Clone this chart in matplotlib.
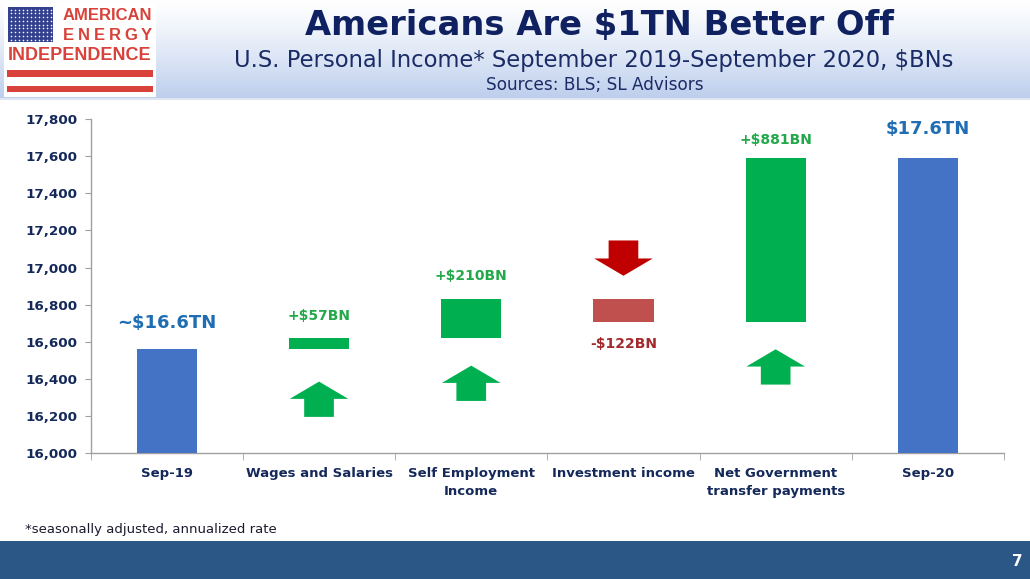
import numpy as np
import matplotlib
matplotlib.use("Agg")
import matplotlib.pyplot as plt
from matplotlib.patches import Rectangle, Polygon

# ---------------- data ----------------
categories = ["Sep-19", "Wages and Salaries", "Self Employment\nIncome",
              "Investment income", "Net Government\ntransfer payments", "Sep-20"]
start_value = 16562
changes = [57, 210, -122, 881]
value_labels = ["~$16.6TN", "+$57BN", "+$210BN", "-$122BN", "+$881BN", "$17.6TN"]
yticks = list(range(16000, 17801, 200))
# decorative arrow tips (data units) for the step categories
arrow_tips = [16386, 16472, 16956, 16560]

# ---------------- derived ----------------
end_value = start_value + sum(changes)
bottoms, heights = [0], [start_value]
running = start_value
for c in changes:
    if c >= 0:
        bottoms.append(running); heights.append(c)
    else:
        bottoms.append(running + c); heights.append(-c)
    running += c
bottoms.append(0); heights.append(end_value)

BLUE = "#4472C4"; GREEN = "#00B050"; RED_BAR = "#C0504D"; RED_ARROW = "#C00000"
NAVY = "#14285a"
colors = [BLUE] + [GREEN if c >= 0 else RED_BAR for c in changes] + [BLUE]
label_colors = ["#1f6db3"] + ["#23a84a" if c >= 0 else "#a3292b" for c in changes] + ["#1f6db3"]

W, H = 1030, 579
fig = plt.figure(figsize=(W / 100, H / 100), dpi=100)
fig.patch.set_facecolor("white")

# ---------------- decoration layer (pixel coords) ----------------
deco = fig.add_axes([0, 0, 1, 1], zorder=0)
deco.set_xlim(0, W); deco.set_ylim(H, 0); deco.axis("off")
# header gradient
grad = np.linspace(0, 1, 256)[:, None]
top_c = np.array([1.0, 1.0, 1.0]); bot_c = np.array([0.74, 0.81, 0.93])
img = top_c[None, None, :] * (1 - grad[:, :, None] ** 1.2) + bot_c[None, None, :] * grad[:, :, None] ** 1.2
deco.imshow(img, extent=[0, W, 98, 0], aspect="auto", zorder=0)
deco.plot([0, W], [98.5, 98.5], color="#dfe6f2", lw=1.5, zorder=1)
# logo
deco.add_patch(Rectangle((4, 3), 152, 94, facecolor="white", edgecolor="none", zorder=2))
deco.add_patch(Rectangle((8, 7), 45, 35, facecolor="#33418f", edgecolor="none", zorder=3))
sx, sy = np.meshgrid(np.linspace(10.5, 50.5, 11), np.linspace(9.5, 39.5, 9))
deco.scatter(sx.ravel(), sy.ravel(), s=1.3, color="white", zorder=4, linewidths=0)
LOGO_RED = "#d8423a"
deco.add_patch(Rectangle((7, 70), 146, 7, facecolor=LOGO_RED, edgecolor="none", zorder=3))
deco.add_patch(Rectangle((7, 86), 146, 6, facecolor=LOGO_RED, edgecolor="none", zorder=3))
deco.text(107, 15.5, "AMERICAN", color=LOGO_RED, fontsize=12, family="Liberation Sans",
          fontweight="bold", ha="center", va="center", zorder=4)
for i, ch in enumerate("ENERGY"):
    deco.text(68.5 + i * 15.6, 35.5, ch, color=LOGO_RED, fontsize=12, family="Liberation Sans",
              fontweight="bold", ha="center", va="center", zorder=4)
deco.text(79.5, 55.5, "INDEPENDENCE", color=LOGO_RED, fontsize=13, family="Liberation Sans",
          fontweight="bold", ha="center", va="center", zorder=4)
# titles
deco.text(599, 26, "Americans Are $1TN Better Off", color="#0f2160", fontsize=24.3,
          fontweight="bold", ha="center", va="center", zorder=4)
deco.text(594, 61, "U.S. Personal Income* September 2019-September 2020, $BNs",
          color="#1a2b66", fontsize=16.3, ha="center", va="center", zorder=4)
deco.text(595, 84.5, "Sources: BLS; SL Advisors", color="#1a2b66", fontsize=12.2,
          ha="center", va="center", zorder=4)
# footnote and footer band
deco.text(25, 530, "*seasonally adjusted, annualized rate", color="#1a1a2e", fontsize=9.5,
          ha="left", va="center", zorder=4)
deco.add_patch(Rectangle((0, 541), W, H - 541, facecolor="#2b5786", edgecolor="none", zorder=2))
deco.text(1017, 561, "7", color="white", fontsize=11, fontweight="bold", ha="center",
          va="center", zorder=4)

# ---------------- main chart ----------------
ax = fig.add_axes([90.7 / W, 1 - 453.3 / H, (1004 - 90.7) / W, (453.3 - 119) / H], zorder=2)
ax.patch.set_alpha(0)
x = np.arange(len(categories))
ax.bar(x, heights, bottom=bottoms, width=0.395, color=colors, zorder=3)
ax.set_xlim(-0.5, len(categories) - 0.5)
ax.set_ylim(16000, 17800)
ax.set_yticks(yticks)
ax.set_yticklabels([f"{v:,}" for v in yticks])
ax.set_xticks(x)
ax.set_xticklabels(categories)
ax.set_xticks(np.arange(-0.5, len(categories)), minor=True)
ax.tick_params(axis="x", which="major", length=0, pad=10, labelsize=9.5, labelcolor=NAVY)
ax.tick_params(axis="x", which="minor", length=5, color="#a0a0a0", direction="out")
ax.tick_params(axis="y", length=4, color="#a0a0a0", pad=5.5, labelsize=9.7, labelcolor=NAVY)
for lab in ax.get_xticklabels() + ax.get_yticklabels():
    lab.set_fontweight("bold")
for lab in ax.get_xticklabels():
    lab.set_linespacing(1.5)
for s in ["top", "right"]:
    ax.spines[s].set_visible(False)
for s in ["left", "bottom"]:
    ax.spines[s].set_color("#a0a0a0")
    ax.spines[s].set_linewidth(1.0)

# value labels
offsets_pt = [19, 16, 17, -16, 13, 21]
sizes = [13, 10, 10, 10, 10, 13]
for i in range(len(categories)):
    if offsets_pt[i] >= 0:
        yref = bottoms[i] + heights[i]
    else:
        yref = bottoms[i]
    ax.annotate(value_labels[i], (x[i], yref), xytext=(0, offsets_pt[i]),
                textcoords="offset points", ha="center", va="center",
                color=label_colors[i], fontsize=sizes[i], fontweight="bold", zorder=5)

# decorative arrows
head_w, shaft_w, head_len, total_len = 0.385, 0.195, 93, 190
for k, c in enumerate(changes):
    cx = x[k + 1]
    tip = arrow_tips[k]
    d = 1 if c >= 0 else -1
    base = tip - d * head_len
    tail = tip - d * total_len
    pts = [(cx, tip), (cx + head_w / 2, base), (cx + shaft_w / 2, base),
           (cx + shaft_w / 2, tail), (cx - shaft_w / 2, tail), (cx - shaft_w / 2, base),
           (cx - head_w / 2, base)]
    ax.add_patch(Polygon(pts, closed=True, facecolor=GREEN if c >= 0 else RED_ARROW,
                         edgecolor="none", zorder=3))

fig.savefig("out.png", dpi=100, facecolor="white")
